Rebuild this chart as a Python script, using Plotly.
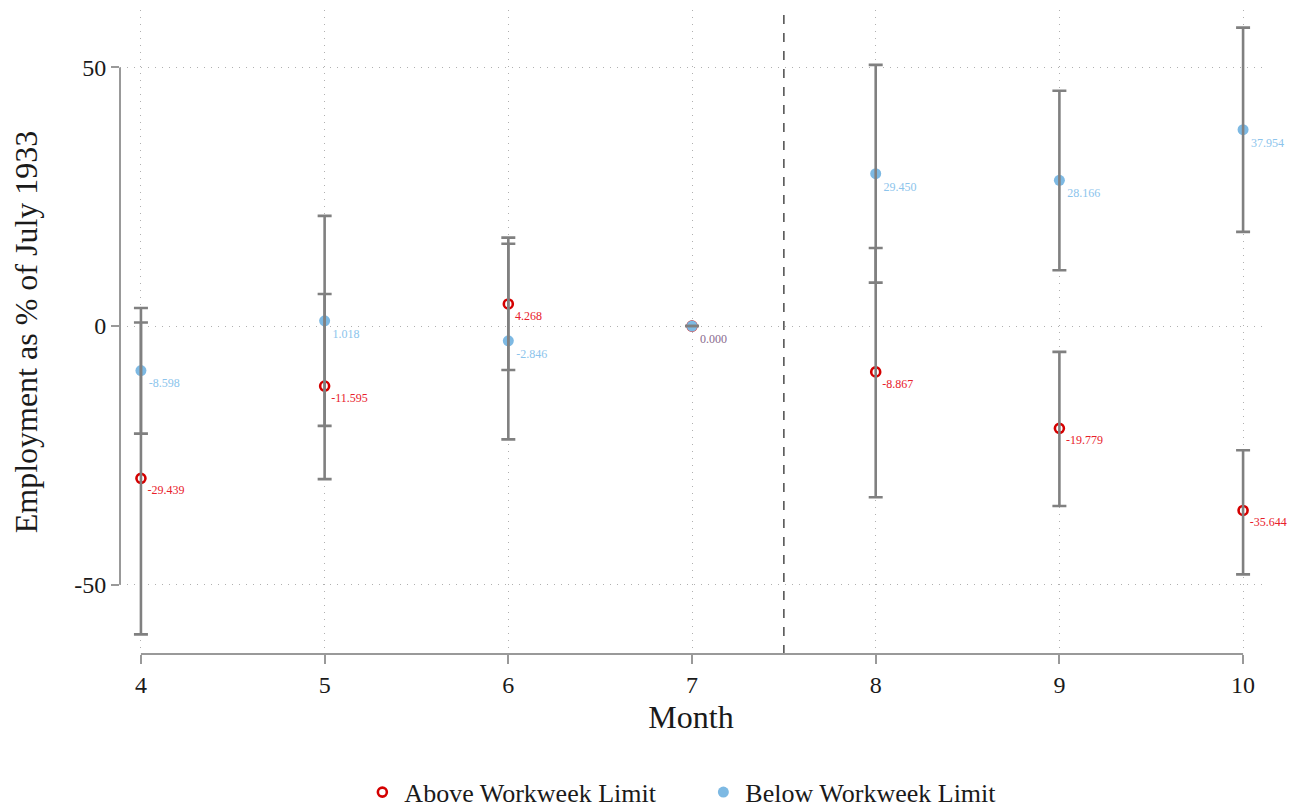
import plotly.graph_objects as go

months = [4, 5, 6, 7, 8, 9, 10]

above_est = [-29.439, -11.595, 4.268, 0.000, -8.867, -19.779, -35.644]
above_lo = [-59.6, -29.6, -8.5, 0.0, -33.1, -34.8, -48.0]
above_hi = [0.7, 6.2, 17.1, 0.0, 15.1, -5.0, -24.0]

below_est = [-8.598, 1.018, -2.846, 0.000, 29.450, 28.166, 37.954]
below_lo = [-20.8, -19.3, -21.9, 0.0, 8.4, 10.8, 18.2]
below_hi = [3.5, 21.3, 15.9, 0.0, 50.5, 45.5, 57.7]

y_ticks = [-50, 0, 50]
cutoff = 7.5

RED = "#d40000"
RED_TXT = "#e8202a"
BLUE = "#7db9e3"
BLUE_TXT = "#8cc4ec"
MIX_TXT = "#8a6a8e"
GRAY = "#808080"
AXIS = "#999999"
TXT = "#1a1a1a"
FONT = "Liberation Serif"

fig = go.Figure()

# where both groups coincide (reference month), a single blended label is shown
above_text = ["" if a == b else f"{a:.3f}" for a, b in zip(above_est, below_est)]
below_text = [f"{b:.3f}" for b in below_est]
below_txtcol = [MIX_TXT if a == b else BLUE_TXT for a, b in zip(above_est, below_est)]

fig.add_trace(go.Scatter(
    x=months, y=above_est, mode="markers+text", name="Above Workweek Limit",
    marker=dict(symbol="circle-open", size=9, color=RED, line=dict(width=2.6, color=RED)),
    text=above_text, textposition="bottom right", cliponaxis=False,
    textfont=dict(family=FONT, size=12, color=RED_TXT),
))
fig.add_trace(go.Scatter(
    x=months, y=below_est, mode="markers+text", name="Below Workweek Limit",
    marker=dict(symbol="circle", size=11, color=BLUE),
    text=below_text, textposition="bottom right", cliponaxis=False,
    textfont=dict(family=FONT, size=12, color=below_txtcol),
))

# error bars on top
for est, lo, hi in [(above_est, above_lo, above_hi), (below_est, below_lo, below_hi)]:
    fig.add_trace(go.Scatter(
        x=months, y=est, mode="markers", showlegend=False, hoverinfo="skip",
        marker=dict(size=1, opacity=0), cliponaxis=False,
        error_y=dict(type="data", symmetric=False,
                     array=[h - e for h, e in zip(hi, est)],
                     arrayminus=[e - l for e, l in zip(est, lo)],
                     color=GRAY, thickness=2.6, width=7),
    ))

fig.add_shape(type="line", x0=cutoff, x1=cutoff, yref="paper", y0=0, y1=1,
              line=dict(color="#555555", width=1.6, dash="dash"))
fig.add_shape(type="line", xref="paper", x0=0, x1=0, y0=min(y_ticks), y1=max(y_ticks),
              line=dict(color=AXIS, width=2))
fig.add_shape(type="line", x0=min(months), x1=max(months), yref="paper", y0=0, y1=0,
              line=dict(color=AXIS, width=2))

fig.update_layout(
    width=1296, height=801,
    margin=dict(l=112, r=42, t=2, b=155, autoexpand=False),
    plot_bgcolor="white", paper_bgcolor="white",
    font=dict(family=FONT, color=TXT),
    showlegend=True,
    legend=dict(orientation="h", x=0.535, xanchor="center", xref="container",
                y=0.021, yanchor="middle", yref="container",
                font=dict(family=FONT, size=26, color=TXT),
                entrywidth=292, entrywidthmode="pixels", itemwidth=34),
    xaxis=dict(
        range=[3.886, 10.103], tickvals=months, ticktext=[str(m) for m in months],
        showgrid=True, gridcolor="#b0b0b0", griddash="1px,6px", gridwidth=1,
        zeroline=False, showline=False, ticks="outside", ticklen=9, tickwidth=2,
        tickcolor=AXIS, tickfont=dict(family=FONT, size=24, color=TXT), automargin=False,
        title=dict(text="Month", font=dict(family=FONT, size=32, color=TXT), standoff=8),
    ),
    yaxis=dict(
        range=[-63.4, 61.1], tickvals=y_ticks, ticktext=[str(v) for v in y_ticks],
        showgrid=True, gridcolor="#b0b0b0", griddash="1px,6px", gridwidth=1,
        zeroline=False, showline=False, ticks="outside", ticklen=8, tickwidth=2,
        tickcolor=AXIS, tickfont=dict(family=FONT, size=24, color=TXT), automargin=False,
        title=dict(text="Employment as % of July 1933",
                   font=dict(family=FONT, size=32, color=TXT), standoff=35),
    ),
)

fig.write_html("out.html")
